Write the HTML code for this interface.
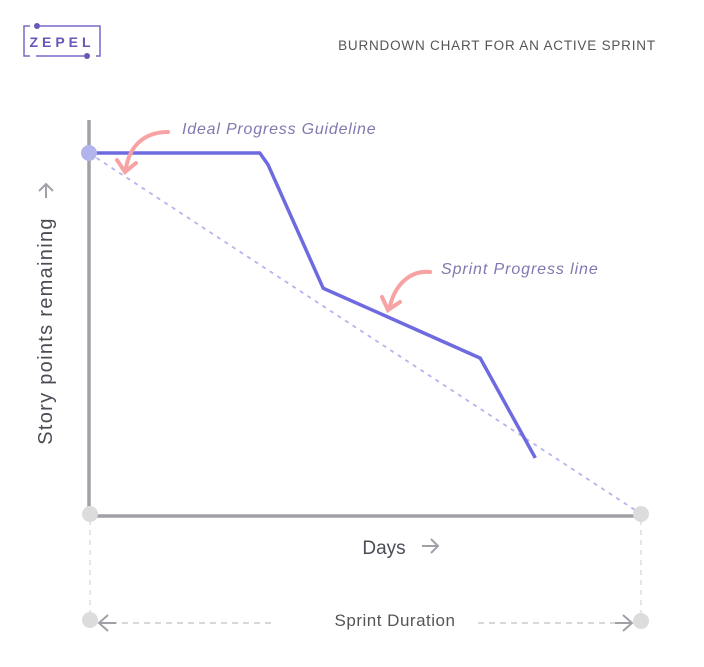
<!DOCTYPE html>
<html><head><meta charset="utf-8"><style>
body{margin:0;background:#fff;}
svg text{font-family:"Liberation Sans",sans-serif;}
</style></head><body>
<svg width="704" height="662" viewBox="0 0 704 662">
<g>
<path d="M30 26 H24 V56 H30 M84 26 H100 V56 H96 M36 56 H84" fill="none" stroke="#7a68c8" stroke-width="1.5"/>
<path d="M40 26 H84" fill="none" stroke="#7a68c8" stroke-width="1.5"/>
<circle cx="37" cy="26" r="3" fill="#6a56b8"/><circle cx="87" cy="56" r="3" fill="#6a56b8"/>
<text x="62" y="47" text-anchor="middle" font-size="14" letter-spacing="4" fill="#6a56b8" font-weight="bold">ZEPEL</text>
</g>
<text x="497" y="50" text-anchor="middle" font-size="13.5" letter-spacing="0.8" fill="#555">BURNDOWN CHART FOR AN ACTIVE SPRINT</text>
<g id="plot"></g>
<line x1="89" y1="120" x2="89" y2="516" stroke="#a0a1a6" stroke-width="3.5"/>
<line x1="89" y1="516" x2="640" y2="516" stroke="#a0a1a6" stroke-width="3.5"/>
<line x1="90" y1="520" x2="90" y2="616" stroke="#ddd" stroke-width="1.5" stroke-dasharray="5,5"/>
<line x1="641" y1="520" x2="641" y2="616" stroke="#ddd" stroke-width="1.5" stroke-dasharray="5,5"/>
<circle cx="90" cy="514" r="8" fill="#dcdcdc"/><circle cx="641" cy="514" r="8" fill="#dcdcdc"/>
<line x1="100" y1="623" x2="272" y2="623" stroke="#ccc" stroke-width="1.5" stroke-dasharray="6,5"/>
<line x1="478" y1="623" x2="630" y2="623" stroke="#ccc" stroke-width="1.5" stroke-dasharray="6,5"/>
<circle cx="90" cy="620" r="8" fill="#dcdcdc"/><circle cx="641" cy="621" r="8" fill="#dcdcdc"/>
<path d="M108 615 L99 623 L108 631 M99 623 H116" fill="none" stroke="#a0a1a6" stroke-width="2"/>
<path d="M623 615 L632 623 L623 631 M632 623 H615" fill="none" stroke="#a0a1a6" stroke-width="2"/>
<text x="395" y="626" text-anchor="middle" font-size="17" letter-spacing="0.5" fill="#555">Sprint Duration</text>
<text x="384" y="554" text-anchor="middle" font-size="19" fill="#4a4d55">Days</text>
<path d="M422 546 H437 M431 539 L438 546 L431 553" fill="none" stroke="#a0a1a6" stroke-width="2"/>
<text transform="translate(52,331) rotate(-90)" text-anchor="middle" font-size="20" letter-spacing="1.3" fill="#4a4d55">Story points remaining</text>
<path d="M46 198 V184 M39 191 L46 184 L53 191" fill="none" stroke="#a0a1a6" stroke-width="2"/>
<text x="182" y="134" font-size="16" letter-spacing="0.8" font-style="italic" fill="#8079b0">Ideal Progress Guideline</text>
<path d="M168 132 C145 132 130 145 126 168 M117 160 L125 172 L136 163" fill="none" stroke="#f7a3a3" stroke-width="4" stroke-linecap="round"/>
<text x="441" y="274" font-size="16" letter-spacing="0.9" font-style="italic" fill="#8079b0">Sprint Progress line</text>
<path d="M430 272 C410 270 395 285 390 306 M382 297 L388 310 L400 302" fill="none" stroke="#f7a3a3" stroke-width="4" stroke-linecap="round"/>
</svg>
<script>
const idealDays=[0,10];
const idealPoints=[40,0.3];
const sprintDays=[0,3.1,3.25,4.25,7.1,8.1];
const sprintPoints=[40,40,38.7,25.1,17.4,6.4];
const NS="http://www.w3.org/2000/svg";
function xs(d){return 89+d*55.1;}
function ys(p){return 516-p*9.075;}
const g=document.getElementById('plot');
const il=document.createElementNS(NS,'polyline');
il.setAttribute('points',idealDays.map((d,i)=>xs(d)+','+ys(idealPoints[i])).join(' '));
il.setAttribute('fill','none');il.setAttribute('stroke','#b6b3ef');il.setAttribute('stroke-width','1.8');il.setAttribute('stroke-dasharray','4,5');


g.appendChild(il);
const sl=document.createElementNS(NS,'polyline');
sl.setAttribute('points',sprintDays.map((d,i)=>xs(d)+','+ys(sprintPoints[i])).join(' '));
sl.setAttribute('fill','none');sl.setAttribute('stroke','#6e6ae0');sl.setAttribute('stroke-width','3.5');sl.setAttribute('stroke-linejoin','round');


g.appendChild(sl);
const c=document.createElementNS(NS,'circle');
c.setAttribute('cx',xs(sprintDays[0]));c.setAttribute('cy',ys(sprintPoints[0]));c.setAttribute('r','8');c.setAttribute('fill','#b4b4ec');


document.querySelector('svg').appendChild(c);
</script>
</body></html>
